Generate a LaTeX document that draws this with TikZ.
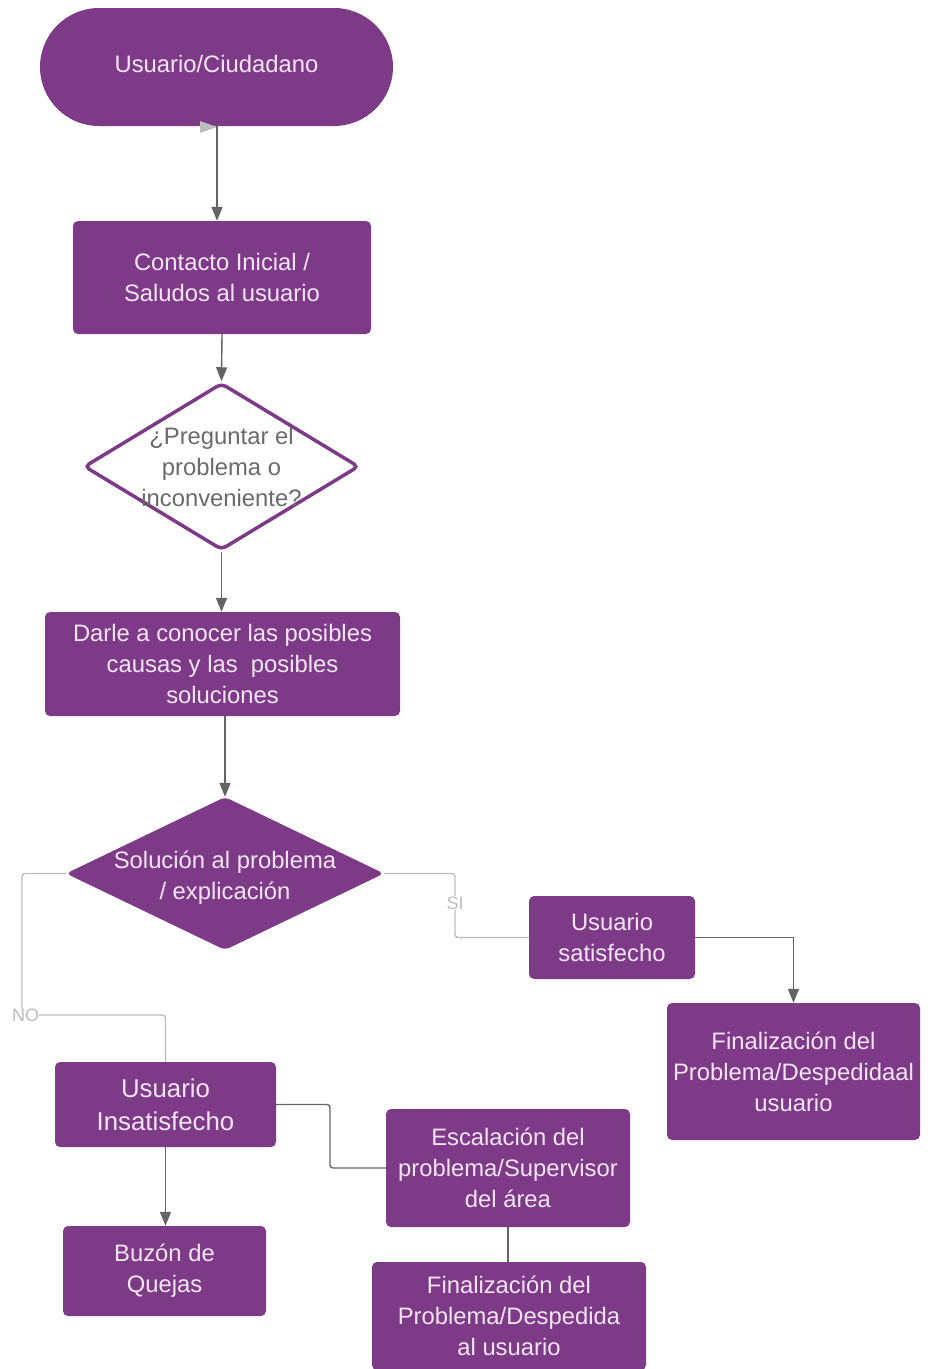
\documentclass[tikz,border=0pt]{standalone}
\usepackage{fontspec}
\setmainfont{Liberation Sans}
\usetikzlibrary{shapes.geometric,arrows.meta}
\definecolor{plum}{HTML}{7D3B87}
\definecolor{ink}{HTML}{F4E4F5}
\definecolor{wire}{HTML}{646464}
\definecolor{pale}{HTML}{BDBDBD}
\definecolor{qtext}{HTML}{6A6A6A}

\begin{document}
\begin{tikzpicture}[x=1pt,y=-1pt,
  txt/.style={text=ink, align=center, font=\fontsize{23.8}{31}\selectfont},
  box/.style={txt, fill=plum, rounded corners=5pt, inner sep=0pt},
  decision/.style={diamond, inner sep=0pt, rounded corners=5pt},
  flow/.style={draw=wire, line width=1.4pt, -{Triangle[length=14pt,width=11pt]}},
  link/.style={draw=wire, line width=1.4pt},
  branch/.style={draw=pale, line width=1.4pt, rounded corners=3pt},
  tag/.style={text=pale, fill=white, inner sep=1pt, font=\fontsize{18}{18}\selectfont}]

\useasboundingbox (0,0) rectangle (928,1369);

% terminal and process steps
\node[box, rounded corners=59pt, minimum width=353pt, minimum height=118pt] (start) at (216.5,67) {\raisebox{7pt}{Usuario/Ciudadano}};
\node[box, minimum width=298pt, minimum height=113pt] (contact) at (222,277.5) {Contacto Inicial /\\Saludos al usuario};
\node[decision, fill=white, draw=plum, line width=3.5pt, minimum width=275pt, minimum height=167pt] (ask) at (221.5,466.5) {};
\node[txt, text=qtext] (askText) at (221.5,466.5) {¿Preguntar el\\problema o\\inconveniente?};
\node[box, minimum width=355pt, minimum height=104pt] (causes) at (222.5,664) {Darle a conocer las posibles\\causas y las\ \ posibles\\soluciones};
\node[decision, fill=plum, minimum width=318pt, minimum height=153pt] (solve) at (225,873.5) {};
\node[txt] (solveText) at (225,878) {Solución al problema\\/ explicación};

% positive branch
\node[box, minimum width=166pt, minimum height=83pt] (sat) at (612,937.5) {Usuario\\satisfecho};
\node[box, minimum width=253pt, minimum height=137pt] (endA) at (793.5,1071.5) {Finalización del\\Problema/Despedidaal\\usuario};

% negative branch
\node[box, minimum width=221pt, minimum height=85pt, font=\fontsize{25.8}{33}\selectfont] (unsat) at (165.5,1104.5) {Usuario\\Insatisfecho};
\node[box, minimum width=244pt, minimum height=118pt] (escal) at (508,1168) {Escalación del\\problema/Supervisor\\del área};
\node[box, minimum width=274pt, minimum height=108pt] (endB) at (509,1316) {Finalización del\\Problema/Despedida\\al usuario};
\node[box, minimum width=203pt, minimum height=90pt] (complaints) at (164.5,1271) {Buzón de\\Quejas};

% bend points of the branch connectors
\coordinate (siBend) at (455,903);
\coordinate (noBend) at (22,1015);
\coordinate (escJog) at (330,1135);

% main flow
\fill[pale] (200,121) -- (217,127) -- (200,133) -- cycle;
\draw[flow] (start.south -| 217,0) -- (contact.north -| 217,0);
\draw[flow] (contact.south) -- (ask.north);
\draw[flow] (ask.south) -- (causes.north -| ask.south);
\draw[flow] (causes.south -| solve.north) -- (solve.north);

% decision branches
\draw[branch] (solve.east) -| (siBend) |- (sat.west);
\node[tag] (siTag) at (siBend) {SI};
\draw[flow] (sat.east) -| (endA.north);

\draw[branch] (solve.west) -| (noBend) -| (unsat.north);
\node[tag, anchor=west, inner sep=0pt] (noTag) at ([xshift=-10pt]noBend) {NO};

\draw[link, rounded corners=3pt] (unsat.east) -| (escJog) |- (escal.west);
\draw[link] (escal.south) -- (endB.north -| escal.south);
\draw[flow] (unsat.south) -- (complaints.north -| unsat.south);
\end{tikzpicture}
\end{document}
